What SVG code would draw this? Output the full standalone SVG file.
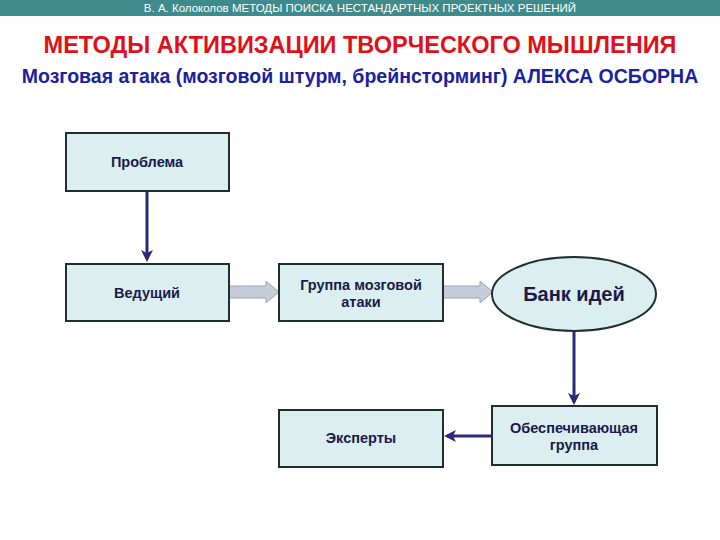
<svg xmlns="http://www.w3.org/2000/svg" width="720" height="540" viewBox="0 0 720 540">
<style>
.box{fill:#dbeef0;stroke:#1f2f2f;stroke-width:2}
.t{font-family:"Liberation Sans",Arial,sans-serif;font-weight:bold;fill:#1a1a4a;text-anchor:middle;font-size:14.5px}
.big{font-size:20px}
.ln{stroke:#2a2a78;stroke-width:3;fill:none}
.fat{fill:#c8ccd8;stroke:#9aa6b8;stroke-width:1}
</style>
<defs>
<marker id="ah" markerWidth="4" markerHeight="4" refX="3" refY="2" orient="auto"><path d="M0,0 L4,2 L0,4 L1,2 Z" fill="#2a2a78"/></marker>
</defs>
<rect width="720" height="540" fill="#fff"/>
<rect x="0" y="0" width="720" height="16" fill="#3e8a8c"/>
<text x="360" y="12" font-family="Liberation Sans,Arial,sans-serif" font-size="11.5" fill="#fff" text-anchor="middle">В. А. Колоколов МЕТОДЫ  ПОИСКА  НЕСТАНДАРТНЫХ  ПРОЕКТНЫХ  РЕШЕНИЙ</text>
<text x="360" y="53" font-family="Liberation Sans,Arial,sans-serif" font-size="23.5" font-weight="bold" fill="#e0101a" text-anchor="middle">МЕТОДЫ АКТИВИЗАЦИИ ТВОРЧЕСКОГО МЫШЛЕНИЯ</text>
<text x="360" y="83" font-family="Liberation Sans,Arial,sans-serif" font-size="19.5" font-weight="bold" fill="#1a22a0" text-anchor="middle">Мозговая атака (мозговой штурм, брейнсторминг) АЛЕКСА ОСБОРНА</text>
<g id="connectors">
<line class="ln" x1="147" y1="191" x2="147" y2="259" marker-end="url(#ah)"/>
<path class="fat" d="M229,286 L266,286 L266,281 L279,292 L266,303 L266,298 L229,298 Z"/>
<path class="fat" d="M443,286 L480,286 L480,281 L493,292 L480,303 L480,298 L443,298 Z"/>
<line class="ln" x1="574" y1="331" x2="574" y2="402" marker-end="url(#ah)"/>
<line class="ln" x1="492" y1="436" x2="447" y2="436" marker-end="url(#ah)"/>
</g>
<g id="problema"><rect class="box" x="66" y="133" width="163" height="58"/><text class="t" x="147" y="167">Проблема</text></g>
<g id="vedushchiy"><rect class="box" x="66" y="264" width="163" height="57"/><text class="t" x="147" y="298">Ведущий</text></g>
<g id="gruppa"><rect class="box" x="279" y="264" width="164" height="57"/><text class="t" x="361" y="290">Группа мозговой</text><text class="t" x="361" y="307">атаки</text></g>
<g id="bank"><ellipse cx="574" cy="294" rx="82" ry="37" fill="#dbeef0" stroke="#1f2f2f" stroke-width="2"/><text class="t big" x="574" y="301">Банк идей</text></g>
<g id="obesp"><rect class="box" x="492" y="406" width="165" height="59"/><text class="t" x="574" y="433">Обеспечивающая</text><text class="t" x="574" y="450">группа</text></g>
<g id="eksperty"><rect class="box" x="279" y="410" width="164" height="57"/><text class="t" x="361" y="443">Эксперты</text></g>
</svg>
